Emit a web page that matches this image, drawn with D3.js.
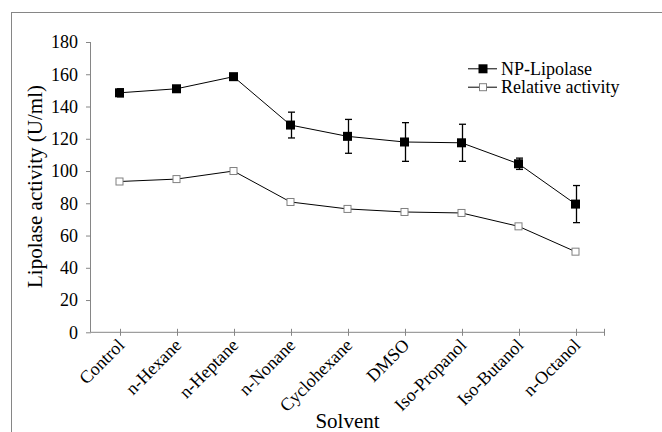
<!DOCTYPE html>
<html>
<head>
<meta charset="utf-8">
<script src="https://cdn.jsdelivr.net/npm/d3@7"></script>
<style>
  body { margin: 0; background: #fff; }
  svg text { font-family: "Liberation Serif", "Times New Roman", serif !important; fill: #000; }
</style>
</head>
<body>
<svg id="chart" width="662" height="432"></svg>
<script>

// data
const solvents = ["Control", "n-Hexane", "n-Heptane", "n-Nonane", "Cyclohexane",
                  "DMSO", "Iso-Propanol", "Iso-Butanol", "n-Octanol"];
const npLipolase = [148.5, 151, 158.5, 128.5, 121.5, 118, 117.5, 104.5, 79.5];
const npError = [2.5, 1.5, 1, 8, 10.5, 12, 11.5, 3.5, 11.5];
const relativeActivity = [93.5, 95, 100, 80.8, 76.5, 74.6, 74, 65.7, 50];
const yTicks = [0, 20, 40, 60, 80, 100, 120, 140, 160, 180];
const seriesNames = ["NP-Lipolase", "Relative activity"];

/**********************
***** BASIC SETUP *****
**********************/

const AXIS_GREY = "#868686";
const SERIF = "'Liberation Serif', 'Times New Roman', serif";
const margin = {top: 42, left: 91, right: 58, bottom: 100};
const width = 662;
const height = 432;

const svg = d3.select("#chart");

// outer frame (right and bottom edges sit off canvas)
svg.append("rect")
    .attr("x", 11.5)
    .attr("y", 12.5)
    .attr("width", 700)
    .attr("height", 500)
    .attr("fill", "none")
    .attr("stroke", AXIS_GREY)
    .attr("stroke-width", 1);

/*****************
***** SCALES *****
*****************/

const x = d3.scaleBand()
    .domain(solvents)
    .range([margin.left, width - margin.right])
    .padding(0);

const y = d3.scaleLinear()
    .domain([0, 180])
    .range([332.3, margin.top]);

const cx = d => x(d) + x.bandwidth() / 2;

/***************
***** AXES *****
***************/

// y axis
const yAxis = svg.append("g")
    .attr("transform", `translate(${margin.left},0)`)
    .call(d3.axisLeft(y).tickValues(yTicks).tickSize(5).tickPadding(8));

yAxis.attr("font-family", null);
yAxis.select(".domain").attr("stroke", AXIS_GREY).attr("d", `M-0.5,${y(180)}V${y(0)}`);
yAxis.selectAll(".tick line").attr("stroke", AXIS_GREY);
yAxis.selectAll(".tick text")
    .style("font-size", "18px")
    .style("font-family", SERIF)
    .attr("fill", "#000");

// x axis line with crossing ticks
const xAxis = svg.append("g").attr("class", "xAxis");

xAxis.append("line")
    .attr("x1", x.range()[0])
    .attr("x2", x.range()[1])
    .attr("y1", y(0))
    .attr("y2", y(0))
    .attr("stroke", AXIS_GREY);

const tickXs = solvents.map(cx).concat([x.range()[1]]);
xAxis.selectAll(".xtick")
    .data(tickXs)
    .enter()
    .append("line")
    .attr("class", "xtick")
    .attr("x1", d => Math.round(d) + 0.5)
    .attr("x2", d => Math.round(d) + 0.5)
    .attr("y1", y(0) - 3.5)
    .attr("y2", y(0) + 3.5)
    .attr("stroke", AXIS_GREY);

// slanted category labels
xAxis.selectAll(".xlabel")
    .data(solvents)
    .enter()
    .append("text")
    .attr("class", "xlabel")
    .attr("text-anchor", "end")
    .style("font-size", "18px")
    .attr("transform", d => `translate(${cx(d) + 6},${y(0) + 14}) rotate(-45)`)
    .text(d => d);

/*************************
***** AXIS TITLES *****
*************************/

svg.append("text")
    .attr("text-anchor", "middle")
    .style("font-size", "21px")
    .attr("transform", `translate(41.5,186.5) rotate(-90)`)
    .text("Lipolase activity (U/ml)");

svg.append("text")
    .attr("text-anchor", "middle")
    .style("font-size", "21px")
    .attr("x", (x.range()[0] + x.range()[1]) / 2)
    .attr("y", 428)
    .text("Solvent");

/*******************
***** SERIES *****
*******************/

const line = d3.line()
    .x((d, i) => cx(solvents[i]))
    .y(d => y(d));

// relative activity
svg.append("path")
    .datum(relativeActivity)
    .attr("d", line)
    .attr("fill", "none")
    .attr("stroke", "#000")
    .attr("stroke-width", 1);

svg.selectAll(".relPoint")
    .data(relativeActivity)
    .enter()
    .append("rect")
    .attr("class", "relPoint")
    .attr("x", (d, i) => cx(solvents[i]) - 3.5)
    .attr("y", d => y(d) - 3.5)
    .attr("width", 7)
    .attr("height", 7)
    .attr("fill", "#fff")
    .attr("stroke", "#808080")
    .attr("stroke-width", 1);

// NP-Lipolase line
svg.append("path")
    .datum(npLipolase)
    .attr("d", line)
    .attr("fill", "none")
    .attr("stroke", "#000")
    .attr("stroke-width", 1);

// error bars
const errG = svg.append("g").attr("class", "errorBars");
npLipolase.forEach(function(v, i) {
    const px = Math.round(cx(solvents[i])) + 0.5;
    const top = y(v + npError[i]);
    const bot = y(v - npError[i]);
    errG.append("line")
        .attr("x1", px).attr("x2", px)
        .attr("y1", top).attr("y2", bot)
        .attr("stroke", "#000").attr("stroke-width", 1.3);
    [top, bot].forEach(function(t) {
        errG.append("line")
            .attr("x1", px - 3.5).attr("x2", px + 3.5)
            .attr("y1", t).attr("y2", t)
            .attr("stroke", "#000").attr("stroke-width", 1.3);
    });
});

svg.selectAll(".npPoint")
    .data(npLipolase)
    .enter()
    .append("rect")
    .attr("class", "npPoint")
    .attr("x", (d, i) => cx(solvents[i]) - 4.5)
    .attr("y", d => y(d) - 4.5)
    .attr("width", 9)
    .attr("height", 9)
    .attr("fill", "#000");

/*****************
***** LEGEND *****
*****************/

const legend = svg.append("g").attr("class", "legend");
const legendY = [68.8, 87.2];

seriesNames.forEach(function(name, i) {
    const ly = legendY[i];
    legend.append("line")
        .attr("x1", 468).attr("x2", 497)
        .attr("y1", ly).attr("y2", ly)
        .attr("stroke", "#000");
    if (i === 0) {
        legend.append("rect")
            .attr("x", 478.5).attr("y", ly - 4.5)
            .attr("width", 9).attr("height", 9)
            .attr("fill", "#000");
    } else {
        legend.append("rect")
            .attr("x", 479.5).attr("y", ly - 3.5)
            .attr("width", 7).attr("height", 7)
            .attr("fill", "#fff")
            .attr("stroke", "#808080");
    }
    legend.append("text")
        .attr("x", 501)
        .attr("y", ly + 6)
        .style("font-size", "18px")
        .text(name);
});

</script>
</body>
</html>
